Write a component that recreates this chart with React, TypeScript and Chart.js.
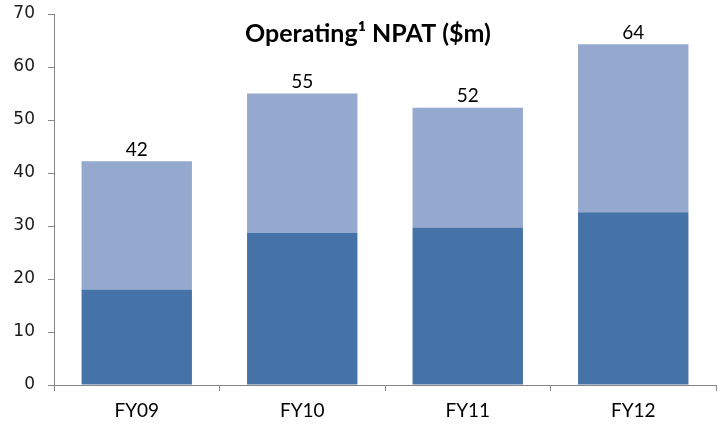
import React, { useEffect, useRef } from "react";
import { Chart, registerables } from "chart.js";

Chart.register(...registerables);

const categories = ["FY09", "FY10", "FY11", "FY12"];
const baseValues = [18.0, 28.7, 29.7, 32.6];
const topValues = [24.2, 26.3, 22.6, 31.7];
const totalLabels = ["42", "55", "52", "64"];
const chartTitle = "Operating¹ NPAT ($m)";
const yMin = 0;
const yMax = 70;
const yStep = 10;

const totalsPlugin = {
  id: "totalsPlugin",
  afterDatasetsDraw(chart: any) {
    const meta = chart.getDatasetMeta(1);
    const ctx = chart.ctx;
    ctx.save();
    ctx.font = "19px Lato";
    ctx.fillStyle = "#000";
    ctx.textAlign = "center";
    ctx.textBaseline = "bottom";
    meta.data.forEach((el: any, i: number) => {
      ctx.fillText(totalLabels[i], el.x, el.y - 2);
    });
    ctx.restore();
  },
};

const titlePlugin = {
  id: "titlePlugin",
  afterDraw(chart: any) {
    const { ctx, chartArea } = chart;
    ctx.save();
    ctx.font = "bold 25px Lato";
    ctx.fillStyle = "#000";
    ctx.textAlign = "center";
    ctx.textBaseline = "alphabetic";
    ctx.fillText(chartTitle, (chartArea.left + chartArea.right) / 2 - 17, chartArea.top + 28);
    ctx.restore();
  },
};

export default function App() {
  const ref = useRef<HTMLCanvasElement | null>(null);

  useEffect(() => {
    if (!ref.current) return;
    const chart = new Chart(ref.current, {
      type: "bar",
      data: {
        labels: categories,
        datasets: [
          {
            data: baseValues,
            backgroundColor: "#4673A7",
            barPercentage: 0.667,
            categoryPercentage: 1,
          },
          {
            data: topValues,
            backgroundColor: "#95A9CF",
            barPercentage: 0.667,
            categoryPercentage: 1,
          },
        ],
      },
      options: {
        animation: false,
        responsive: true,
        maintainAspectRatio: false,
        layout: { padding: { top: 14, right: 5, left: 0, bottom: 0 } },
        plugins: {
          legend: { display: false },
          tooltip: { enabled: false },
          title: { display: false },
        },
        scales: {
          x: {
            stacked: true,
            grid: {
              offset: true,
              drawOnChartArea: false,
              drawTicks: true,
              tickLength: 6,
              color: "#868686",
            },
            border: { color: "#868686", width: 1 },
            ticks: {
              font: { family: "Lato", size: 19 },
              color: "#000",
              padding: 8,
            },
            afterFit(scale: any) {
              scale.height = 48;
              scale.paddingLeft = 0;
              scale.paddingRight = 0;
            },
          },
          y: {
            stacked: true,
            min: yMin,
            max: yMax,
            grid: {
              drawOnChartArea: false,
              drawTicks: true,
              tickLength: 6,
              color: "#868686",
            },
            border: { color: "#868686", width: 1 },
            ticks: {
              stepSize: yStep,
              font: { family: "DejaVu Sans", size: 17 },
              color: "#1a1a1a",
              padding: 13,
            },
            afterFit(scale: any) {
              scale.width = 54;
              scale.paddingTop = 0;
              scale.paddingBottom = 0;
            },
          },
        },
      },
      plugins: [totalsPlugin, titlePlugin],
    });
    return () => chart.destroy();
  }, []);

  return (
    <div style={{ position: "fixed", left: 0, top: 0, width: 721, height: 433, background: "#fff" }}>
      <canvas ref={ref} />
    </div>
  );
}
